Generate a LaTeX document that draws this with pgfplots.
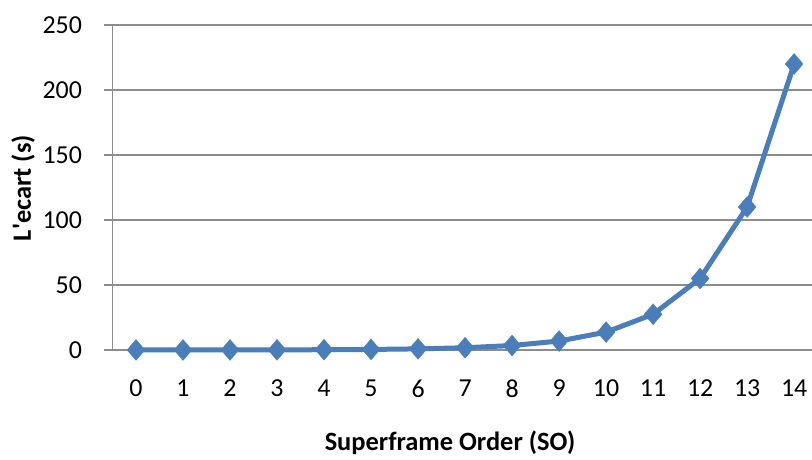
\documentclass[border=0pt]{standalone}
\usepackage{pgfplots}
\pgfplotsset{compat=1.18}
\usepackage{fontspec}
\setmainfont{Carlito}
\definecolor{xblue}{HTML}{4A7EBB}
\definecolor{xgrid}{HTML}{8C8C8C}
\newcommand{\sq}{\XeTeXglyph\numexpr\XeTeXcharglyph"0027\relax}
\begin{document}
\begin{tikzpicture}[x=1bp,y=1bp]
\path[use as bounding box] (0,0) rectangle (812,460);
\begin{axis}[
  at={(112.5bp,110bp)}, anchor=south west,
  scale only axis, width=699.5bp, height=325bp,
  xmin=-0.5, xmax=14.38, ymin=0, ymax=250,
  xtick={0,...,14}, ytick={0,50,...,250},
  axis x line=bottom, axis y line=left,
  axis line style={-, draw=xgrid, line width=1.3bp},
  ymajorgrids, grid style={draw=xgrid, line width=1.3bp},
  tick align=outside, major tick length=9bp,
  xtick style={draw=none},
  ytick style={draw=xgrid, line width=1.3bp},
  tick label style={font=\fontsize{26}{26}\selectfont},
  /pgf/number format/assume math mode=true,
  xticklabel style={yshift=-17bp},
  yticklabel style={xshift=-18bp},
  xlabel={\textbf{Superframe Order (SO)}},
  ylabel={\textbf{L\sq ecart (s)}},
  label style={font=\fontsize{26.5}{26.5}\selectfont},
  xlabel style={at={(axis description cs:0.4825,-0.286)}, anchor=center},
  ylabel style={at={(axis description cs:-0.128,0.498)}, anchor=center},
  clip=false,
]
\addplot[color=xblue, line width=5bp, mark=diamond*, mark size=10.5bp, mark options={xscale=1.14, fill=xblue, draw=xblue, line width=0.3bp}]
coordinates {
(0,0.013) (1,0.027) (2,0.054) (3,0.107) (4,0.215) (5,0.43) (6,0.86) (7,1.72)
(8,3.44) (9,6.88) (10,13.75) (11,27.5) (12,55) (13,110) (14,220)
};
\end{axis}
\end{tikzpicture}
\end{document}
